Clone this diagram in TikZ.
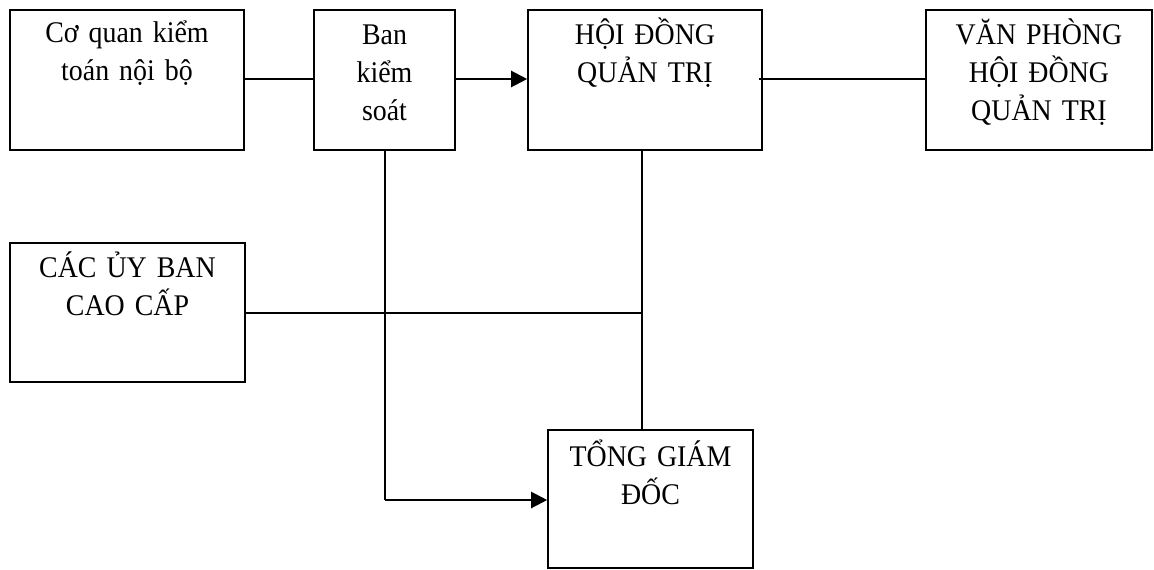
\documentclass[tikz,border=0pt]{standalone}
\usepackage{fontspec}
\setmainfont{Liberation Serif}[FakeStretch=0.93]
\usetikzlibrary{arrows.meta,calc}
\begin{document}
\begin{tikzpicture}[x=1pt,y=-1pt,
  box/.style={draw, line width=1.6pt, inner sep=0pt, minimum width=#1},
  box/.default=100,
  lbl/.style={anchor=base, align=center, inner sep=0pt, text width=220pt,
    font=\fontsize{30}{38}\selectfont},
  conn/.style={line width=2.2pt},
  arr/.style={conn, -{Triangle[length=16pt,width=16pt]}},
  thin/.style={line width=1.1pt}]
\useasboundingbox (0,0) rectangle (1154,570);
% boxes
\node[box=234, minimum height=140] (cq) at (127,80) {};
\node[box=141, minimum height=140] (bks) at (384.5,80) {};
\node[box=234, minimum height=140] (hdqt) at (645,80) {};
\node[box=226, minimum height=140] (vp) at (1039,80) {};
\node[box=235, minimum height=139] (ub) at (127.5,312.5) {};
\node[box=205, minimum height=138] (tgd) at (650.5,499) {};
% texts
\node[lbl] (tcq) at ([yshift=-33]cq.north) {Cơ quan kiểm\\toán nội bộ};
\node[lbl] (tbks) at ([yshift=-35]bks.north) {Ban\\kiểm\\soát};
\node[lbl] (thdqt) at ([yshift=-35]hdqt.north) {HỘI ĐỒNG\\QUẢN TRỊ};
\node[lbl] (tvp) at ([yshift=-35]vp.north) {VĂN PHÒNG\\HỘI ĐỒNG\\QUẢN TRỊ};
\node[lbl] (tub) at ([yshift=-35]ub.north) {CÁC ỦY BAN\\CAO CẤP};
\node[lbl] (ttgd) at ([yshift=-37]tgd.north) {TỔNG GIÁM\\ĐỐC};
% connectors
\coordinate (j1) at (642,150);
\coordinate (j2) at (642,313);
\coordinate (k1) at (385,150);
\coordinate (k2) at (385,500);
\draw[conn] (cq.east |- 0,79) -- (bks.west |- 0,79);
\draw[arr] (bks.east |- 0,79) -- (hdqt.west |- 0,79);
\draw[thin] ([xshift=-4pt]hdqt.east |- 0,79) -- (vp.west |- 0,79);
\draw[conn] (j1) -- (j1 |- tgd.north);
\draw[conn] (ub.east |- j2) -- (j2);
\draw[conn] (k1) -- (k2);
\draw[arr] (k2) -- (tgd.west |- k2);
\end{tikzpicture}
\end{document}
